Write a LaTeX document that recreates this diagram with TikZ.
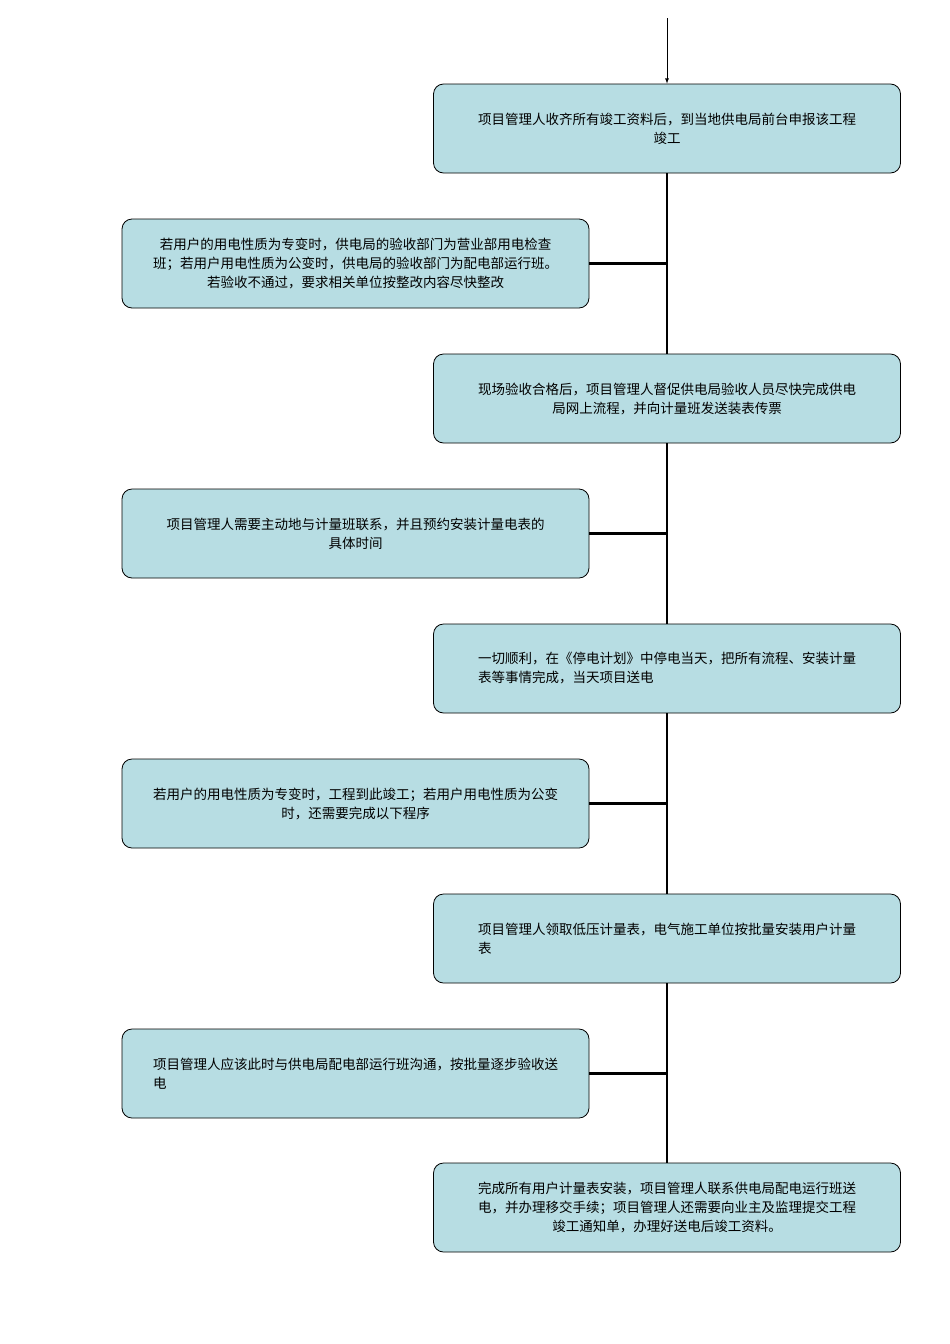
\documentclass[tikz,border=0pt]{standalone}
\usepackage{fontspec}
\setmainfont{Noto Sans CJK SC}
\begin{document}
\begin{tikzpicture}[x=1pt,y=-1pt,
  box/.style={draw=black,line width=0.8pt,fill={rgb,255:red,183;green,221;blue,227},rounded corners=10pt,minimum width=467pt,minimum height=89pt,inner sep=3pt,font=\fontsize{13.5}{19}\selectfont},
  link/.style={line width=2.2pt}]
\useasboundingbox (0,0) rectangle (950,1344);
\node[box,align=center] (r1) at (667,128.5) {项目管理人收齐所有竣工资料后，到当地供电局前台申报该工程\\竣工};
\node[box,align=center] (l1) at (355.5,263.5) {若用户的用电性质为专变时，供电局的验收部门为营业部用电检查\\班；若用户用电性质为公变时，供电局的验收部门为配电部运行班。\\若验收不通过，要求相关单位按整改内容尽快整改};
\node[box,align=center] (r2) at (667,398.5) {现场验收合格后，项目管理人督促供电局验收人员尽快完成供电\\局网上流程，并向计量班发送装表传票};
\node[box,align=center] (l2) at (355.5,533.5) {项目管理人需要主动地与计量班联系，并且预约安装计量电表的\\具体时间};
\node[box,align=left] (r3) at (667,668.5) {一切顺利，在《停电计划》中停电当天，把所有流程、安装计量\\表等事情完成，当天项目送电};
\node[box,align=center] (l3) at (355.5,803.5) {若用户的用电性质为专变时，工程到此竣工；若用户用电性质为公变\\时，还需要完成以下程序};
\node[box,align=left] (r4) at (667,938.5) {项目管理人领取低压计量表，电气施工单位按批量安装用户计量\\表};
\node[box,align=left] (l4) at (355.5,1073.5) {项目管理人应该此时与供电局配电部运行班沟通，按批量逐步验收送\\电};
\node[box,align=center] (r5) at (667,1207.5) {完成所有用户计量表安装，项目管理人联系供电局配电运行班送\\电，并办理移交手续；项目管理人还需要向业主及监理提交工程\\竣工通知单，办理好送电后竣工资料。};
\coordinate (top) at (667,18);
\draw[-latex,line width=0.8pt] (top) -- (r1.north);
\draw[link] (r1.south) -- (r2.north);
\draw[link] (r2.south) -- (r3.north);
\draw[link] (r3.south) -- (r4.north);
\draw[link] (r4.south) -- (r5.north);
\draw[link] (l1.east) -- (l1.east -| r1.south);
\draw[link] (l2.east) -- (l2.east -| r1.south);
\draw[link] (l3.east) -- (l3.east -| r1.south);
\draw[link] (l4.east) -- (l4.east -| r1.south);
\end{tikzpicture}
\end{document}
